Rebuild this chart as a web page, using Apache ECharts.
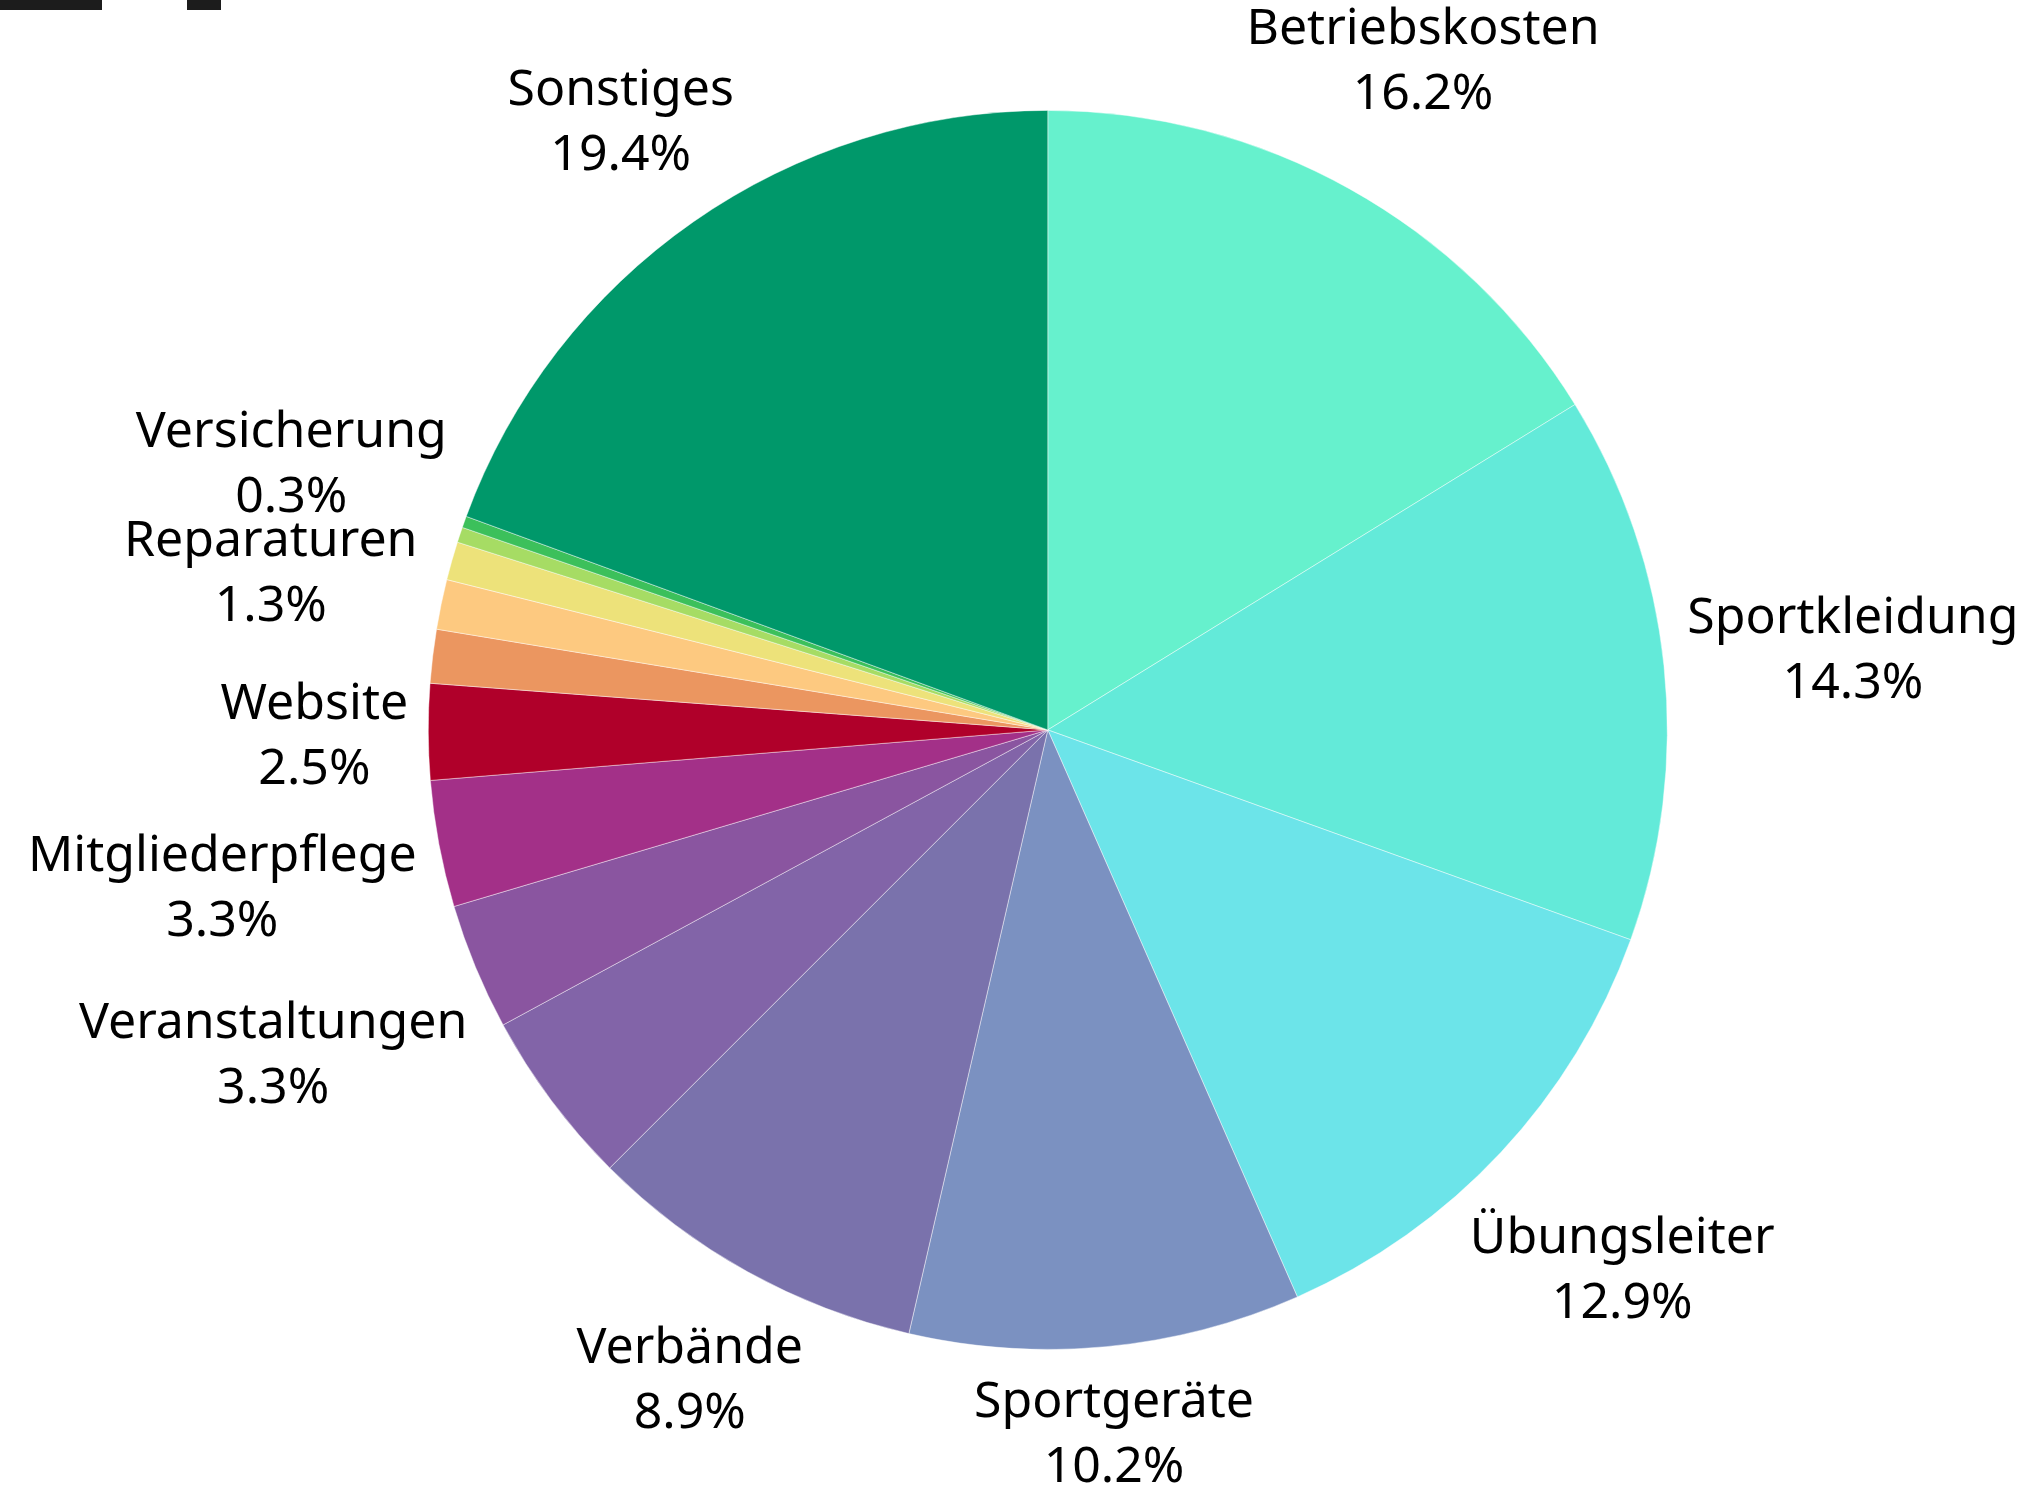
<!DOCTYPE html>
<html>
<head>
<meta charset="utf-8">
<script src="https://cdn.jsdelivr.net/npm/echarts@6/dist/echarts.min.js"></script>
<style>
  html, body { margin: 0; padding: 0; background: #ffffff; }
  #chart { width: 2028px; height: 1486px; }
</style>
</head>
<body>
<div id="chart"></div>
<script>
// ---- data (percent shares, clockwise from 12 o'clock) ----
const categories = [
  'Betriebskosten', 'Sportkleidung', 'Übungsleiter', 'Sportgeräte', 'Verbände',
  'Fahrtkosten', 'Veranstaltungen', 'Mitgliederpflege', 'Website', 'Bankgebühren',
  'Reparaturen', 'Büromaterial', 'Porto', 'Versicherung', 'Sonstiges'
];
const shares = [16.2, 14.3, 12.9, 10.2, 8.9, 4.6, 3.3, 3.3, 2.5, 1.4, 1.3, 1.0, 0.4, 0.3, 19.4];
const unlabeled = ['Fahrtkosten', 'Bankgebühren', 'Büromaterial', 'Porto'];

// ---- styling ----
const palette = [
  '#66F1CD', '#63EAD9', '#6CE4E9', '#7B91C1', '#7A72AC',
  '#8264A8', '#8A55A0', '#A33088', '#B0002A', '#EB9660',
  '#FDC980', '#EDE27A', '#A6DC64', '#3CC05B', '#00986A'
];
const CX = 1047.8, CY = 729.9, R = 619.5, GAP = 20, V_TRIM = 14, Y_SHIFT = 5;

const total = shares.reduce((a, b) => a + b, 0);
const mids = [];
let acc = 0;
shares.forEach(v => { mids.push((acc + v / 2) / total * 2 * Math.PI); acc += v; });

const chart = echarts.init(document.getElementById('chart'), null, { renderer: 'canvas' });
chart.setOption({
  backgroundColor: '#ffffff',
  animation: false,
  graphic: [
    { type: 'rect', shape: { x: 0, y: 0, width: 102, height: 10 }, style: { fill: '#1C1C1C' } },
    { type: 'rect', shape: { x: 187, y: 0, width: 34, height: 10 }, style: { fill: '#1C1C1C' } }
  ],
  series: [{
    type: 'pie',
    center: [CX, CY],
    radius: [0, R],
    startAngle: 90,
    clockwise: true,
    avoidLabelOverlap: false,
    percentPrecision: 1,
    itemStyle: { borderColor: 'rgba(255,255,255,0.55)', borderWidth: 0.8 },
    label: {
      show: true,
      position: 'outside',
      formatter: '{b}\n{d}%',
      fontFamily: 'Noto Sans',
      fontSize: 50,
      lineHeight: 65,
      color: '#000000'
    },
    labelLine: { show: false },
    labelLayout: function (params) {
      const t = mids[params.dataIndex];
      const s = Math.sin(t), c = Math.cos(t);
      const w = params.labelRect.width, h = params.labelRect.height;
      const d = R + GAP + Math.abs(s) * w / 2 + Math.abs(c) * (h / 2 - V_TRIM);
      return { x: CX + s * d, y: CY - c * d + Y_SHIFT, align: 'center', verticalAlign: 'middle' };
    },
    emphasis: { disabled: true },
    data: categories.map((name, i) => ({
      name: name,
      value: shares[i],
      itemStyle: { color: palette[i] },
      label: { show: unlabeled.indexOf(name) < 0 }
    }))
  }]
});
</script>
</body>
</html>
